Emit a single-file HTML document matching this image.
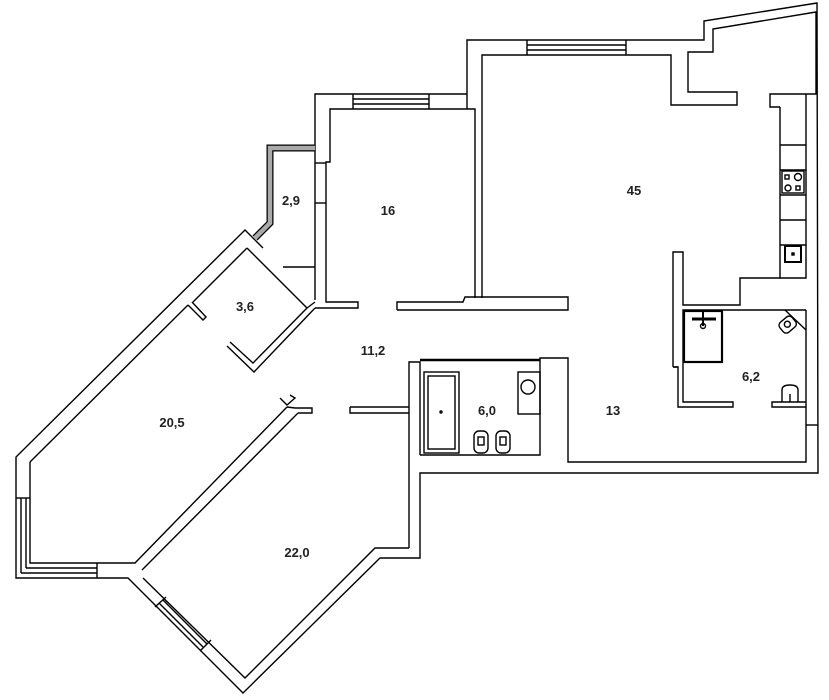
<!DOCTYPE html>
<html><head><meta charset="utf-8"><style>
html,body{margin:0;padding:0;background:#fff;}
svg{display:block}
text{font-family:"Liberation Sans",Arial,sans-serif;font-weight:bold;font-size:13px;fill:#222;text-anchor:middle}
</style></head><body>
<svg width="829" height="700" viewBox="0 0 829 700" xmlns="http://www.w3.org/2000/svg">
<g fill="none" stroke="#000" stroke-width="1.4">
<!-- Big outer boundary right part -->
<polyline points="467,109 467,40 704,40 704,21 817,3 818,473 420,473 420,558 380,558 243,693 128,578 16,578 16,457 245,230 263,248"/>
<!-- 45 room inner -->
<polyline points="482,298 482,55 671,55 671,105 737,105 737,92 688,92 688,52 713,52 713,29 816,12 816,94 770,94 770,107 780,107"/>
<!-- kitchen counter -->
<polyline points="780,107 780,278 806,278 806,94"/>
<line x1="780" y1="145" x2="806" y2="145"/>
<line x1="780" y1="170" x2="806" y2="170"/>
<line x1="780" y1="195" x2="806" y2="195"/>
<line x1="780" y1="220" x2="806" y2="220"/>
<line x1="780" y1="245" x2="806" y2="245"/>
<rect x="782" y="171" width="22" height="22"/>
<rect x="785" y="175" width="4" height="4"/><circle cx="798" cy="177" r="3.5"/>
<circle cx="788" cy="188" r="3"/><rect x="796" y="186" width="4" height="4"/>
<rect x="785" y="246" width="16" height="16" stroke-width="2"/>
<rect x="792" y="253" width="2" height="2" fill="#000"/>
<!-- right wall inner -->
<polyline points="806,310 806,462 568,462 568,358 540,358 540,455 420,455"/>
<line x1="806" y1="425" x2="818" y2="425"/>
<!-- 6.2 walls -->
<polyline points="673,367 673,252 683,252 683,305 740,305 740,278 780,278"/>
<polyline points="683,398 683,310 806,310"/>
<polyline points="678,367 673,367 673,367"/>
<polyline points="673,367 678,367 678,407 733,407 733,402 683,402 683,398"/>
<polyline points="806,402 772,402 772,407 806,407"/>
<rect x="684" y="311" width="38" height="51" stroke-width="2.2"/>
<line x1="692" y1="319" x2="716" y2="319" stroke-width="3"/>
<line x1="703" y1="312" x2="703" y2="326" stroke-width="2"/>
<circle cx="703" cy="326" r="2.5"/>
<line x1="785" y1="310" x2="806" y2="330"/>
<g transform="rotate(-40 788 325)"><rect x="780" y="318" width="16" height="13" rx="4"/><circle cx="788" cy="324" r="3"/></g>
<path d="M782,402 L782,390 Q782,385 790,385 Q798,385 798,390 L798,402"/>
<line x1="790" y1="394" x2="790" y2="402"/>
<!-- Bathroom 6.0 -->
<polyline points="409,548 409,362 420,362 420,455"/>
<line x1="420" y1="360" x2="540" y2="360" stroke-width="2.5"/>
<rect x="424" y="372" width="35" height="81"/>
<rect x="428" y="376" width="27" height="73"/>
<circle cx="441" cy="412" r="1"/>
<rect x="518" y="372" width="22" height="42"/>
<circle cx="528" cy="387" r="7"/>
<rect x="474" y="431" width="14" height="22" rx="5"/><rect x="478" y="437" width="6" height="8"/>
<rect x="496" y="431" width="14" height="22" rx="5"/><rect x="500" y="437" width="6" height="8"/>
<!-- 13 / bottom -->
<polyline points="409,548 375,548 245,678 143,578"/>
<!-- 16 room -->
<polyline points="315,300 315,94 467,94"/>
<polyline points="475,298 475,109 330,109 330,162 326,162 326,302 358,302 358,308 315,308"/>
<line x1="315" y1="163" x2="326" y2="163"/>
<line x1="315" y1="203" x2="326" y2="203"/>
<polyline points="397,310 397,302 463,302 465,297 568,297 568,310 397,310"/>
<!-- 2.9 -->
<line x1="283" y1="267" x2="315" y2="267"/>
<!-- 20.5 left & 3.6 -->
<polyline points="30,462 30,563 135,563 287,407"/>
<polyline points="247,248 307,308 253,363 230,342"/>
<polyline points="315,302 307,308"/>
<polyline points="315,308 254,372 227,346"/>
<polyline points="247,248 193,302"/>
<polyline points="188,305 203,320 206,317 192,302"/>
<polyline points="188,305 30,462"/>
<polyline points="280,398 287,405 295,398 290,395"/>
<polyline points="298,413 142,570"/>
<polyline points="287,407 295,408 312,408 312,413 298,413"/>
<polyline points="350,407 409,407"/><polyline points="350,407 350,413 409,413"/>
<!-- windows -->
<line x1="353" y1="99" x2="429" y2="99"/><line x1="353" y1="104" x2="429" y2="104"/>
<line x1="353" y1="94" x2="353" y2="109"/><line x1="429" y1="94" x2="429" y2="109"/>
<line x1="527" y1="45" x2="626" y2="45"/><line x1="527" y1="50" x2="626" y2="50"/>
<line x1="527" y1="40" x2="527" y2="55"/><line x1="626" y1="40" x2="626" y2="55"/>
<line x1="21" y1="498" x2="21" y2="573"/><line x1="26" y1="498" x2="26" y2="568"/>
<line x1="16" y1="498" x2="30" y2="498"/>
<line x1="21" y1="573" x2="97" y2="573"/><line x1="26" y1="568" x2="97" y2="568"/>
<line x1="97" y1="563" x2="97" y2="578"/>
<line x1="159" y1="603" x2="203" y2="647"/><line x1="163" y1="600" x2="207" y2="644"/>
<line x1="155" y1="607" x2="166" y2="597"/><line x1="200" y1="651" x2="211" y2="640"/>
</g>
<!-- gray wall 2.9 -->
<polyline points="315,148 270,148 270,223 255,238" fill="none" stroke="#000" stroke-width="7"/>
<polyline points="315,148 270,148 270,223 255,238" fill="none" stroke="#aaa" stroke-width="4.5"/>
<text x="634" y="195">45</text>
<text x="388" y="215">16</text>
<text x="291" y="205">2,9</text>
<text x="245" y="311">3,6</text>
<text x="373" y="355">11,2</text>
<text x="172" y="427">20,5</text>
<text x="297" y="557">22,0</text>
<text x="487" y="415">6,0</text>
<text x="613" y="415">13</text>
<text x="751" y="381">6,2</text>
</svg>
</body></html>
